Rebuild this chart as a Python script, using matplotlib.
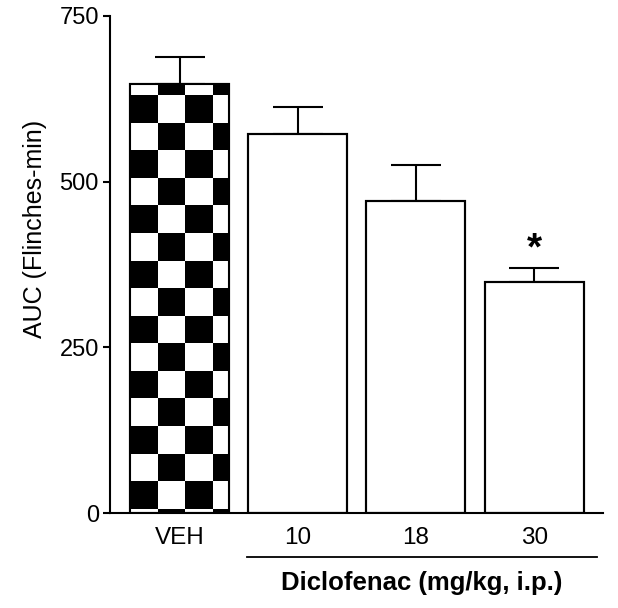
import numpy as np
import matplotlib
matplotlib.use("Agg")
import matplotlib.pyplot as plt
from matplotlib.colors import ListedColormap
from matplotlib.transforms import blended_transform_factory

plt.rcParams['font.family'] = ['Liberation Sans', 'DejaVu Sans']

groups = ['VEH', '10', '18', '30']
means = [647, 572, 471, 348]
sems = [41, 40, 54, 22]
signif = ['', '', '', '*']
ylabel = 'AUC (Flinches-min)'
group_label = 'Diclofenac (mg/kg, i.p.)'
yticks = [0, 250, 500, 750]


def main():
    fig = plt.figure(figsize=(6.18, 6.08), dpi=100)
    ax = fig.add_axes([0.178, 0.156, 0.798, 0.818])

    x = np.arange(len(groups))
    width = 0.838

    bars = ax.bar(x, means, width, facecolor='white', edgecolor='black',
                  linewidth=1.5, zorder=2)

    # checkerboard fill for the vehicle bar
    veh = bars[0]
    cw, ch, y_off = 0.234, 41.6, 6.5
    x0 = veh.get_x()
    xe = np.arange(x0, x0 + veh.get_width() + cw, cw)
    ye = np.arange(y_off - ch, veh.get_height() + ch, ch)
    C = np.add.outer(np.arange(len(ye) - 1), np.arange(len(xe) - 1)) % 2
    mesh = ax.pcolormesh(xe, ye, C, cmap=ListedColormap(['white', 'black']),
                         vmin=0, vmax=1, zorder=2.1)
    mesh.set_clip_path(veh)

    ax.bar(x, means, width, fill=False, edgecolor='black', linewidth=1.5,
           zorder=3)

    ax.errorbar(x, means, yerr=[np.zeros(len(sems)), sems], fmt='none',
                ecolor='black', elinewidth=1.5, capsize=18, capthick=1.5,
                zorder=1)

    for xi, m, s, lab in zip(x, means, sems, signif):
        if lab:
            ax.annotate(lab, (xi, m + s), xytext=(0, 0),
                        textcoords='offset points', ha='center', va='bottom',
                        fontsize=28, fontweight='bold')

    ax.set_xlim(-0.588, 3.584)
    ax.set_ylim(0, 750)
    ax.set_yticks(yticks)
    ax.set_xticks(x)
    ax.set_xticklabels(groups)
    ax.set_ylabel(ylabel, fontsize=18)
    ax.yaxis.set_label_coords(-0.128, 0.571)
    ax.tick_params(axis='y', direction='out', length=5, width=1.5,
                   labelsize=17, pad=3)
    ax.tick_params(axis='x', length=0, labelsize=17.5, pad=10)

    for side in ['top', 'right']:
        ax.spines[side].set_visible(False)
    for side in ['left', 'bottom']:
        ax.spines[side].set_linewidth(1.5)

    # group bracket under the drug doses
    trans = blended_transform_factory(ax.transData, ax.transAxes)
    ax.plot([0.571, 3.53], [-0.0885, -0.0885], color='black', lw=1.3,
            transform=trans, clip_on=False)
    ax.text((0.571 + 3.53) / 2, -0.116, group_label, transform=trans,
            ha='center', va='top', fontsize=18.5, fontweight='bold')

    fig.savefig('out.png', dpi=100)


if __name__ == "__main__":
    main()
